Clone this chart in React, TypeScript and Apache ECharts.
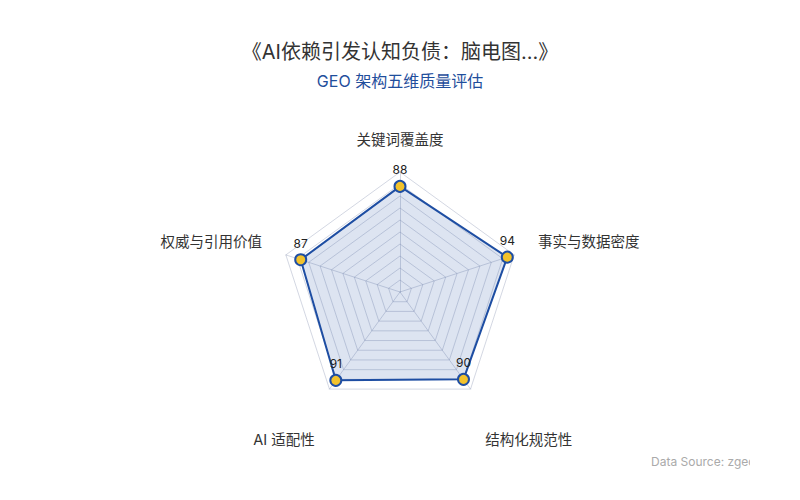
import React, { useEffect, useRef } from 'react';
import * as echarts from 'echarts';

const TITLE = '《AI依赖引发认知负债：脑电图...》';
const SUBTITLE = 'GEO 架构五维质量评估';
// listed in the order ECharts lays them out (counter-clockwise from the top)
const DIMENSIONS = ['关键词覆盖度', '权威与引用价值', 'AI 适配性', '结构化规范性', '事实与数据密度'];
const SCORES = [88, 87, 91, 90, 94];
const MAX_SCORE = 100;
const SOURCE = 'Data Source: zgeo.ai';

const FONT = "Inter, 'Noto Sans CJK SC', sans-serif";
const LOWER = [2, 3]; // names that sit lower below the web
const SIDE = [1, 4];

const App = () => {
  const chartRef = useRef<HTMLDivElement>(null);

  useEffect(() => {
    document.body.style.margin = '0';
    if (!chartRef.current) return;
    const chart = echarts.init(chartRef.current, null, { renderer: 'svg' });

    const upper = DIMENSIONS.map((name, i) => ({ name: LOWER.includes(i) ? '' : name, max: MAX_SCORE }));
    const lower = DIMENSIONS.map((name, i) => ({ name: LOWER.includes(i) ? name : '', max: MAX_SCORE }));

    chart.setOption({
      animation: false,
      textStyle: { fontFamily: FONT },
      title: {
        text: TITLE,
        subtext: SUBTITLE,
        left: 'center',
        top: 37,
        itemGap: 11,
        textStyle: { fontSize: 20, fontWeight: 'normal', color: '#333' },
        subtextStyle: { fontSize: 16, color: '#1f4e9c' },
      },
      radar: [
        {
          center: ['50%', 292],
          radius: 120,
          splitNumber: 10,
          nameGap: 25,
          indicator: upper,
          axisName: {
            color: '#333',
            fontSize: 14.5,
            formatter: (name: string) => (SIDE.includes(DIMENSIONS.indexOf(name)) ? `{side|${name}}` : name),
            rich: { side: { fontSize: 14.5, color: '#333', padding: [0, 0, 12, 0] } },
          },
          splitLine: { lineStyle: { color: 'rgba(140,150,180,0.38)', width: 1 } },
          axisLine: { lineStyle: { color: 'rgba(140,150,180,0.38)' } },
          splitArea: { show: false },
        },
        {
          // carries only the two lower names
          center: ['50%', 322],
          radius: 120,
          nameGap: 25,
          indicator: lower,
          axisName: { color: '#333', fontSize: 14.5 },
          splitLine: { show: false },
          axisLine: { show: false },
          splitArea: { show: false },
        },
      ],
      series: [
        {
          type: 'radar',
          radarIndex: 0,
          symbol: 'circle',
          symbolSize: 11,
          data: [
            {
              value: SCORES,
              name: 'GEO',
              lineStyle: { color: '#1e4ea3', width: 2 },
              itemStyle: { color: '#f2c22c', borderColor: '#1e4ea3', borderWidth: 2 },
              areaStyle: { color: 'rgba(30,78,163,0.22)' },
              label: { show: true, position: 'top', color: '#222', fontSize: 12, distance: 4 },
            },
          ],
        },
      ],
      graphic: [
        {
          type: 'text',
          left: 651,
          top: 455,
          style: { text: SOURCE, fill: '#aaa', font: `12px ${FONT}` },
        },
        {
          type: 'rect',
          left: 750,
          top: 450,
          shape: { width: 50, height: 30 },
          style: { fill: '#fff' },
        },
      ],
    });

    return () => chart.dispose();
  }, []);

  return <div ref={chartRef} style={{ width: 800, height: 500 }} />;
};

export default App;
